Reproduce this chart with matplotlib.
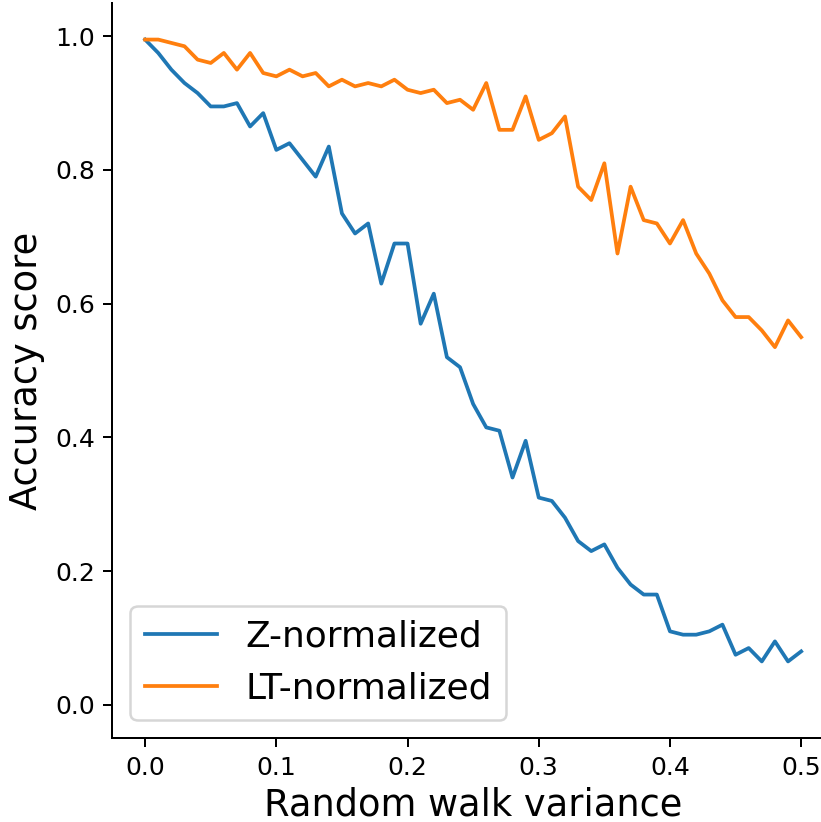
import numpy as np
import matplotlib
matplotlib.use("Agg")
import matplotlib.pyplot as plt

# random walk variance steps
variance = [round(0.01 * i, 2) for i in range(51)]

z_norm = [0.995, 0.975, 0.95, 0.93, 0.915, 0.895, 0.895, 0.90, 0.865, 0.885,
          0.83, 0.84, 0.815, 0.79, 0.835, 0.735, 0.705, 0.72, 0.63, 0.69,
          0.69, 0.57, 0.615, 0.52, 0.505, 0.45, 0.415, 0.41, 0.34, 0.395,
          0.31, 0.305, 0.28, 0.245, 0.23, 0.24, 0.205, 0.18, 0.165, 0.165,
          0.11, 0.105, 0.105, 0.11, 0.12, 0.075, 0.085, 0.065, 0.095, 0.065,
          0.08]

lt_norm = [0.995, 0.995, 0.99, 0.985, 0.965, 0.96, 0.975, 0.95, 0.975, 0.945,
           0.94, 0.95, 0.94, 0.945, 0.925, 0.935, 0.925, 0.93, 0.925, 0.935,
           0.92, 0.915, 0.92, 0.90, 0.905, 0.89, 0.93, 0.86, 0.86, 0.91,
           0.845, 0.855, 0.88, 0.775, 0.755, 0.81, 0.675, 0.775, 0.725, 0.72,
           0.69, 0.725, 0.675, 0.645, 0.605, 0.58, 0.58, 0.56, 0.535, 0.575,
           0.55]

labels = ["Z-normalized", "LT-normalized"]

fig = plt.figure(figsize=(821 / 180, 822 / 180), dpi=180)
ax = fig.add_axes([0.1368, 0.1018, 0.879, 0.8948])

ax.plot(variance, z_norm, label=labels[0])
ax.plot(variance, lt_norm, label=labels[1])

ax.set_xlim(-0.025, 0.525)
ax.set_ylim(-0.05, 1.05)
ax.spines["top"].set_visible(False)
ax.spines["right"].set_visible(False)

ax.set_xlabel("Random walk variance", fontsize=14.7, labelpad=2.5)
ax.set_ylabel("Accuracy score", fontsize=14.7)
ax.legend(loc="lower left", fontsize=14.4)

fig.savefig("out.png", dpi=180)
